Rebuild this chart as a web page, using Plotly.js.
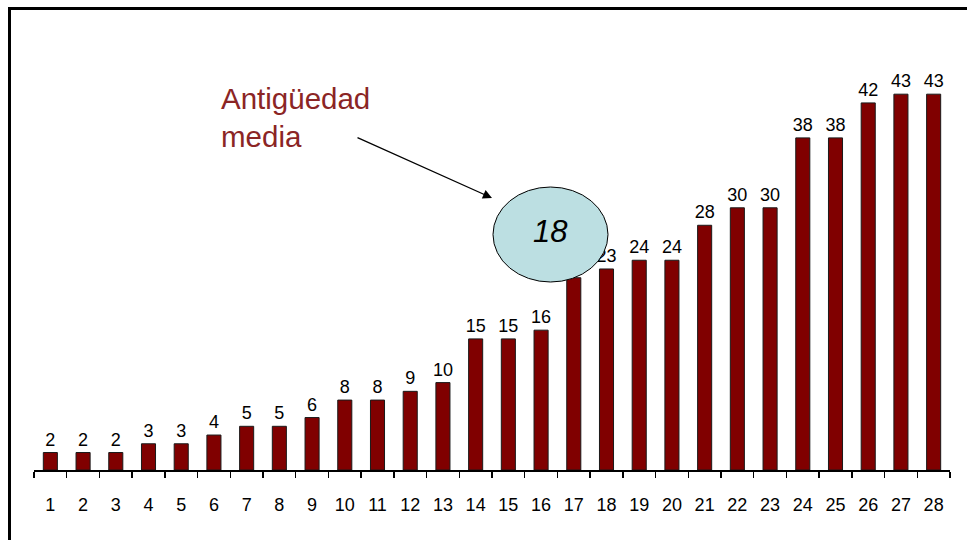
<!DOCTYPE html>
<html>
<head>
<meta charset="utf-8">
<script src="https://cdn.plot.ly/plotly-3.0.1.min.js"></script>
<style>
  html, body { margin: 0; padding: 0; background: #ffffff; }
  #chart { width: 967px; height: 540px; }
</style>
</head>
<body>
<div id="chart"></div>
<script>
// ---- data ----
const categories = ["1","2","3","4","5","6","7","8","9","10","11","12","13","14",
                    "15","16","17","18","19","20","21","22","23","24","25","26","27","28"];
const values = [2,2,2,3,3,4,5,5,6,8,8,9,10,15,15,16,22,23,24,24,28,30,30,38,38,42,43,43];
const calloutLabel = "Antigüedad<br>media";
const meanValue = "18";

// ---- layout helpers (plot area in pixels) ----
const W = 967, H = 540;
const L = 34, R = 950, T = 33, B = 470;
const px = x => (x - L) / (R - L);
const py = y => (B - y) / (B - T);

const font = "Liberation Sans, Arial, sans-serif";

const trace = {
  type: "bar",
  x: categories,
  y: values,
  marker: { color: "#800000", line: { color: "#1a1a1a", width: 1 } },
  text: values.map(String),
  textposition: "outside",
  constraintext: "none",
  cliponaxis: false,
  textfont: { family: font, size: 18, color: "#000000" },
  hoverinfo: "x+y"
};

const layout = {
  width: W, height: H,
  margin: { l: L, r: W - R, t: T, b: H - B, pad: 0 },
  paper_bgcolor: "#ffffff",
  plot_bgcolor: "#ffffff",
  showlegend: false,
  bargap: 0.57,
  xaxis: {
    type: "category",
    range: [-0.5, 27.5],
    showline: true, linecolor: "#000000", linewidth: 2,
    ticks: "outside", tickson: "boundaries", ticklen: 6, tickwidth: 1.5, tickcolor: "#000000",
    ticklabelstandoff: 17,
    tickfont: { family: font, size: 18, color: "#000000" },
    showgrid: false, zeroline: false, fixedrange: true
  },
  yaxis: {
    range: [0, 50],
    visible: false, showgrid: false, zeroline: false, fixedrange: true
  },
  shapes: [
    // page frame
    { type: "line", xref: "paper", yref: "paper",
      x0: px(9.5), y0: py(8.5), x1: px(975), y1: py(8.5),
      line: { color: "#000000", width: 3 }, layer: "above" },
    { type: "line", xref: "paper", yref: "paper",
      x0: px(9.5), y0: py(7), x1: px(9.5), y1: py(548),
      line: { color: "#000000", width: 3 }, layer: "above" },
    // ellipse with mean value
    { type: "circle", xref: "paper", yref: "paper",
      x0: px(493), y0: py(187), x1: px(608), y1: py(282),
      fillcolor: "#bcdfe2", line: { color: "#000000", width: 1 }, layer: "above" }
  ],
  annotations: [
    { xref: "paper", yref: "paper", x: px(550), y: py(231),
      text: meanValue, showarrow: false, xanchor: "center", yanchor: "middle",
      font: { family: font, size: 31, color: "#000000", style: "italic" } },
    { xref: "paper", yref: "paper", x: px(219), y: py(80),
      text: calloutLabel, showarrow: false, xanchor: "left", yanchor: "top", align: "left",
      font: { family: font, size: 29.5, color: "#8b2525" } },
    { xref: "paper", yref: "paper", x: px(492), y: py(198),
      ax: -136, ay: -61, axref: "pixel", ayref: "pixel",
      text: "", showarrow: true, arrowhead: 2, arrowsize: 1.4, arrowwidth: 1.3,
      arrowcolor: "#000000", standoff: 0 }
  ]
};

Plotly.newPlot("chart", [trace], layout, { displayModeBar: false, staticPlot: true });
</script>
</body>
</html>
